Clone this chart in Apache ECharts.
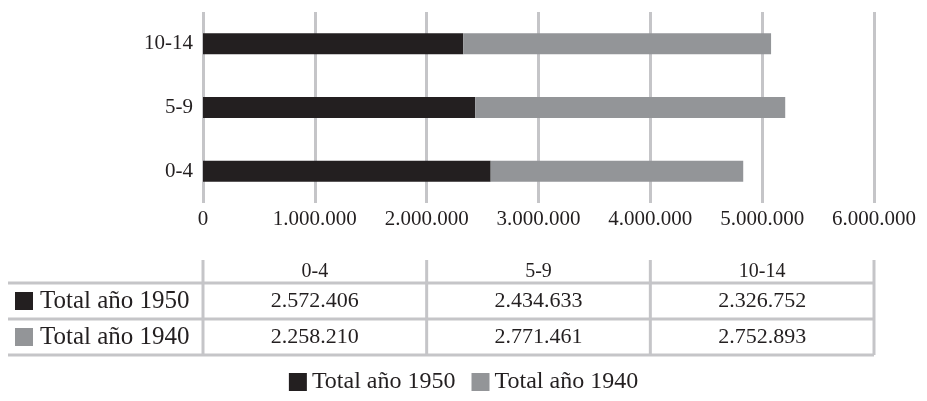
<!DOCTYPE html>
<html>
<head>
<meta charset="utf-8">
<script src="https://cdn.jsdelivr.net/npm/echarts@6/dist/echarts.min.js"></script>
<style>
  html, body { margin: 0; padding: 0; background: #fff; }
  #chart { width: 927px; height: 401px; }
</style>
</head>
<body>
<div id="chart"></div>
<script>
// age groups, bottom to top on the chart
var categories = ['0-4', '5-9', '10-14'];
var total1950 = [2572406, 2434633, 2326752];
var total1940 = [2258210, 2771461, 2752893];
var seriesNames = ['Total año 1950', 'Total año 1940'];
var xTicks = [0, 1000000, 2000000, 3000000, 4000000, 5000000, 6000000];

var dark = '#231f20';
var grey = '#939598';
var lineCol = '#c5c5c8';
var font = '"Liberation Serif", serif';

function fmt(v) {
  return String(v).replace(/\B(?=(\d{3})+(?!\d))/g, '.');
}

var chart = echarts.init(document.getElementById('chart'));

// data table under the axis
var left = 203, right = 874, labelLeft = 8;
var colW = (right - left) / categories.length;
var headTop = 260, rowTops = [283, 319], rowH = 36;
var tableBottom = rowTops[1] + rowH;
var g = [];

g.push({ type: 'line', shape: { x1: labelLeft, y1: rowTops[0], x2: right, y2: rowTops[0] }, style: { stroke: lineCol, lineWidth: 3 } });
g.push({ type: 'line', shape: { x1: labelLeft, y1: rowTops[1], x2: right, y2: rowTops[1] }, style: { stroke: lineCol, lineWidth: 3 } });
g.push({ type: 'line', shape: { x1: labelLeft, y1: tableBottom, x2: right, y2: tableBottom }, style: { stroke: lineCol, lineWidth: 3 } });
for (var i = 0; i <= categories.length; i++) {
  var x = left + i * colW;
  g.push({ type: 'line', shape: { x1: x, y1: headTop, x2: x, y2: tableBottom }, style: { stroke: lineCol, lineWidth: 3 } });
}
categories.forEach(function (c, i) {
  g.push({ type: 'text', x: left + colW * (i + 0.5), y: (headTop + rowTops[0]) / 2,
    style: { text: c, font: '20px ' + font, fill: dark, align: 'center', verticalAlign: 'middle' } });
});
[total1950, total1940].forEach(function (arr, r) {
  var cy = rowTops[r] + rowH / 2;
  g.push({ type: 'rect', shape: { x: 15, y: cy - 9, width: 18, height: 18 }, style: { fill: r === 0 ? dark : grey } });
  g.push({ type: 'text', x: 40, y: cy, style: { text: seriesNames[r], font: '25px ' + font, fill: dark, verticalAlign: 'middle' } });
  arr.forEach(function (v, i) {
    g.push({ type: 'text', x: left + colW * (i + 0.5), y: cy,
      style: { text: fmt(v), font: '22px ' + font, fill: dark, align: 'center', verticalAlign: 'middle' } });
  });
});

var option = {
  animation: false,
  grid: { left: left, right: 927 - right, top: 12, bottom: 401 - 203, containLabel: false },
  legend: {
    bottom: 2, left: 'center', icon: 'rect', itemWidth: 18, itemHeight: 18, itemGap: 16,
    data: seriesNames,
    textStyle: { fontFamily: font, fontSize: 24, color: dark }
  },
  xAxis: {
    type: 'value', min: xTicks[0], max: xTicks[xTicks.length - 1], interval: 1000000,
    axisLine: { show: false }, axisTick: { show: false },
    splitLine: { lineStyle: { color: lineCol, width: 3 } },
    axisLabel: { formatter: fmt, fontFamily: font, fontSize: 21, color: dark, margin: 6 }
  },
  yAxis: {
    type: 'category', data: categories,
    axisLine: { show: false }, axisTick: { show: false },
    axisLabel: { fontFamily: font, fontSize: 21, color: dark, margin: 10 }
  },
  series: [
    { name: seriesNames[0], type: 'bar', stack: 'total', data: total1950, barWidth: 21, itemStyle: { color: dark } },
    { name: seriesNames[1], type: 'bar', stack: 'total', data: total1940, barWidth: 21, itemStyle: { color: grey } }
  ],
  graphic: g
};
chart.setOption(option);
</script>
</body>
</html>
